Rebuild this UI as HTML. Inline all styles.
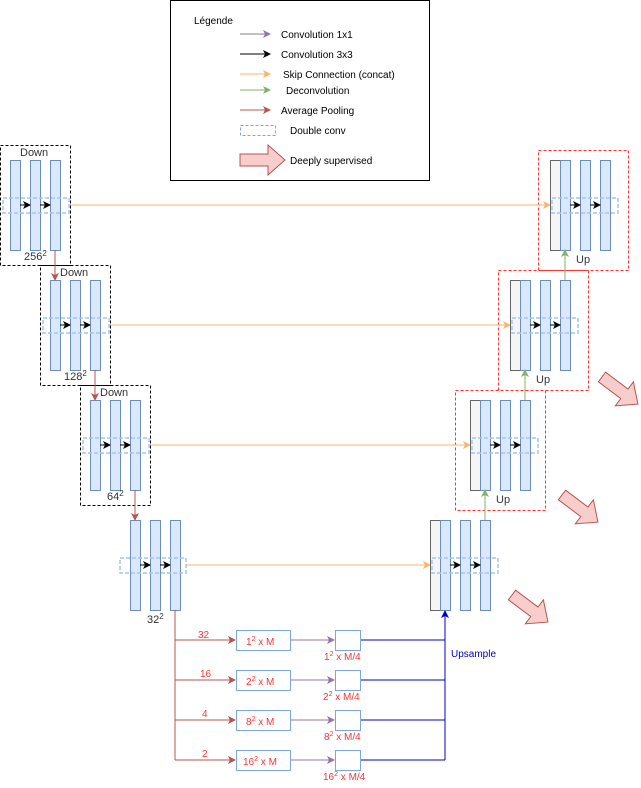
<!DOCTYPE html>
<html><head><meta charset="utf-8"><style>
html,body{margin:0;padding:0;background:#fff}
svg{display:block}
text{font-family:"Liberation Sans",sans-serif}
</style></head><body>
<svg width="641" height="788" viewBox="0 0 641 788" xmlns="http://www.w3.org/2000/svg">
<defs>
<marker id="ak" markerWidth="8" markerHeight="8" refX="7" refY="4" orient="auto" markerUnits="userSpaceOnUse"><path d="M0,0 L8,4 L0,8 L2,4z" fill="#000"/></marker>
<marker id="ao" markerWidth="8" markerHeight="8" refX="7" refY="4" orient="auto" markerUnits="userSpaceOnUse"><path d="M0,0 L8,4 L0,8 L2,4z" fill="#f9b46e"/></marker>
<marker id="ag" markerWidth="8" markerHeight="8" refX="7" refY="4" orient="auto" markerUnits="userSpaceOnUse"><path d="M0,0 L8,4 L0,8 L2,4z" fill="#82b366"/></marker>
<marker id="ar" markerWidth="8" markerHeight="8" refX="7" refY="4" orient="auto" markerUnits="userSpaceOnUse"><path d="M0,0 L8,4 L0,8 L2,4z" fill="#b85450"/></marker>
<marker id="ap" markerWidth="8" markerHeight="8" refX="7" refY="4" orient="auto" markerUnits="userSpaceOnUse"><path d="M0,0 L8,4 L0,8 L2,4z" fill="#9673a6"/></marker>
<marker id="ab" markerWidth="8" markerHeight="8" refX="7" refY="4" orient="auto" markerUnits="userSpaceOnUse"><path d="M0,0 L8,4 L0,8 L2,4z" fill="#0000cc"/></marker>
<g id="bigarrow"><path d="M0,-6 L28,-6 L28,-15 L45,0 L28,15 L28,6 L0,6z" fill="#f8cecc" stroke="#b85450" stroke-width="1"/></g>
</defs>

<!-- Legend -->
<rect x="170.5" y="0.5" width="259" height="180" fill="#fff" stroke="#000"/>
<g font-size="10" fill="#000">
<text x="194" y="24">Légende</text>
<line x1="240" y1="34" x2="270" y2="34" stroke="#9673a6" marker-end="url(#ap)"/><text x="281" y="38">Convolution 1x1</text>
<line x1="240" y1="54" x2="270" y2="54" stroke="#000" marker-end="url(#ak)"/><text x="281" y="58">Convolution 3x3</text>
<line x1="240" y1="74" x2="270" y2="74" stroke="#f9b46e" marker-end="url(#ao)"/><text x="283" y="78">Skip Connection (concat)</text>
<line x1="240" y1="90" x2="270" y2="90" stroke="#82b366" marker-end="url(#ag)"/><text x="286" y="94">Deconvolution</text>
<line x1="240" y1="110" x2="270" y2="110" stroke="#b85450" marker-end="url(#ar)"/><text x="281" y="114">Average Pooling</text>
<rect x="240.5" y="125.5" width="35" height="10" fill="none" stroke="#7ea6e0" stroke-dasharray="3,2"/><text x="290" y="134">Double conv</text>
<use href="#bigarrow" transform="translate(240,160)"/><text x="290" y="164">Deeply supervised</text>
</g>

<!-- Encoder dashed boxes -->
<g fill="none" stroke="#000" stroke-dasharray="3,2">
<rect x="0.5" y="145.5" width="70" height="120"/>
<rect x="40.5" y="265.5" width="70" height="120"/>
<rect x="80.5" y="385.5" width="70" height="120"/>
</g>
<!-- Decoder red dashed boxes -->
<g fill="none" stroke="#ff3333" stroke-dasharray="3,2">
<rect x="538.5" y="150.5" width="90" height="120"/>
<rect x="498.5" y="270.5" width="90" height="120"/>
<rect x="455.5" y="390.5" width="90" height="120"/>
</g>

<!-- skip lines -->
<g stroke="#f9b46e" fill="none">
<line x1="70" y1="205" x2="550" y2="205" marker-end="url(#ao)"/>
<line x1="110" y1="325" x2="510" y2="325" marker-end="url(#ao)"/>
<line x1="150" y1="445" x2="470" y2="445" marker-end="url(#ao)"/>
<line x1="186" y1="565" x2="430" y2="565" marker-end="url(#ao)"/>
</g>

<!-- bars -->
<g fill="#dae8fc" stroke="#6c8ebf">
<rect x="10.5" y="160.5" width="10" height="90"/><rect x="30.5" y="160.5" width="10" height="90"/><rect x="50.5" y="160.5" width="10" height="90"/>
<rect x="50.5" y="280.5" width="10" height="90"/><rect x="70.5" y="280.5" width="10" height="90"/><rect x="90.5" y="280.5" width="10" height="90"/>
<rect x="90.5" y="400.5" width="10" height="90"/><rect x="110.5" y="400.5" width="10" height="90"/><rect x="130.5" y="400.5" width="10" height="90"/>
<rect x="130.5" y="520.5" width="10" height="90"/><rect x="150.5" y="520.5" width="10" height="90"/><rect x="170.5" y="520.5" width="10" height="90"/>
</g>
<g fill="#f5f5f5" stroke="#666">
<rect x="430.5" y="520.5" width="10" height="90"/>
<rect x="470.5" y="400.5" width="10" height="90"/>
<rect x="510.5" y="280.5" width="10" height="90"/>
<rect x="550.5" y="160.5" width="10" height="90"/>
</g>
<g fill="#dae8fc" stroke="#6c8ebf">
<rect x="440.5" y="520.5" width="10" height="90"/><rect x="460.5" y="520.5" width="10" height="90"/><rect x="480.5" y="520.5" width="10" height="90"/>
<rect x="480.5" y="400.5" width="10" height="90"/><rect x="500.5" y="400.5" width="10" height="90"/><rect x="520.5" y="400.5" width="10" height="90"/>
<rect x="520.5" y="280.5" width="10" height="90"/><rect x="540.5" y="280.5" width="10" height="90"/><rect x="560.5" y="280.5" width="10" height="90"/>
<rect x="560.5" y="160.5" width="10" height="90"/><rect x="580.5" y="160.5" width="10" height="90"/><rect x="600.5" y="160.5" width="10" height="90"/>
</g>

<!-- double conv boxes -->
<g fill="none" stroke="#a9c4eb" stroke-width="1.5" stroke-dasharray="4,2">
<rect x="3" y="198" width="66" height="15"/>
<rect x="43" y="318" width="66" height="15"/>
<rect x="83" y="438" width="66" height="15"/>
<rect x="120" y="558" width="66" height="15"/>
<rect x="432" y="558" width="66" height="15"/>
<rect x="472" y="438" width="66" height="15"/>
<rect x="512" y="318" width="66" height="15"/>
<rect x="552" y="198" width="66" height="15"/>
</g>

<!-- conv arrows -->
<g stroke="#000" marker-end="url(#ak)">
<line x1="20" y1="205" x2="30" y2="205"/><line x1="40" y1="205" x2="50" y2="205"/>
<line x1="60" y1="325" x2="70" y2="325"/><line x1="80" y1="325" x2="90" y2="325"/>
<line x1="100" y1="445" x2="110" y2="445"/><line x1="120" y1="445" x2="130" y2="445"/>
<line x1="140" y1="565" x2="150" y2="565"/><line x1="160" y1="565" x2="170" y2="565"/>
<line x1="450" y1="565" x2="460" y2="565"/><line x1="470" y1="565" x2="480" y2="565"/>
<line x1="490" y1="445" x2="500" y2="445"/><line x1="510" y1="445" x2="520" y2="445"/>
<line x1="530" y1="325" x2="540" y2="325"/><line x1="550" y1="325" x2="560" y2="325"/>
<line x1="570" y1="205" x2="580" y2="205"/><line x1="590" y1="205" x2="600" y2="205"/>
</g>

<!-- pooling arrows -->
<g stroke="#b85450" marker-end="url(#ar)">
<line x1="55" y1="250" x2="55" y2="280"/>
<line x1="95" y1="370" x2="95" y2="400"/>
<line x1="135" y1="490" x2="135" y2="520"/>
</g>
<!-- deconv arrows -->
<g stroke="#82b366" marker-end="url(#ag)">
<line x1="485" y1="520" x2="485" y2="490"/>
<line x1="525" y1="400" x2="525" y2="370"/>
<line x1="565" y1="280" x2="565" y2="250"/>
</g>

<!-- labels -->
<g font-size="11" fill="#333">
<text x="20" y="156">Down</text>
<text x="60" y="276">Down</text>
<text x="100" y="396">Down</text>
<text x="24" y="260">256<tspan font-size="8" dy="-4">2</tspan></text>
<text x="64" y="380">128<tspan font-size="8" dy="-4">2</tspan></text>
<text x="107" y="500">64<tspan font-size="8" dy="-4">2</tspan></text>
<text x="147" y="623">32<tspan font-size="8" dy="-4">2</tspan></text>
<text x="576" y="263">Up</text>
<text x="536" y="383">Up</text>
<text x="496" y="503">Up</text>
</g>

<!-- big arrows -->
<use href="#bigarrow" transform="translate(602,377) rotate(37)"/>
<use href="#bigarrow" transform="translate(562,495) rotate(37)"/>
<use href="#bigarrow" transform="translate(512,595) rotate(37)"/>

<!-- pyramid pooling -->
<g stroke="#b85450" fill="none">
<line x1="175" y1="610" x2="175" y2="760"/>
<line x1="175" y1="640" x2="235" y2="640" marker-end="url(#ar)"/>
<line x1="175" y1="680" x2="235" y2="680" marker-end="url(#ar)"/>
<line x1="175" y1="720" x2="235" y2="720" marker-end="url(#ar)"/>
<line x1="175" y1="760" x2="235" y2="760" marker-end="url(#ar)"/>
</g>
<g stroke="#9673a6">
<line x1="291" y1="640" x2="334" y2="640" marker-end="url(#ap)"/>
<line x1="291" y1="680" x2="334" y2="680" marker-end="url(#ap)"/>
<line x1="291" y1="720" x2="334" y2="720" marker-end="url(#ap)"/>
<line x1="291" y1="760" x2="334" y2="760" marker-end="url(#ap)"/>
</g>
<g fill="#fff" stroke="#7ea6e0">
<rect x="236.5" y="630.5" width="54" height="20"/><rect x="236.5" y="670.5" width="54" height="20"/>
<rect x="236.5" y="710.5" width="54" height="20"/><rect x="236.5" y="750.5" width="54" height="20"/>
<rect x="335.5" y="630.5" width="25" height="20"/><rect x="335.5" y="670.5" width="25" height="20"/>
<rect x="335.5" y="710.5" width="25" height="20"/><rect x="335.5" y="750.5" width="25" height="20"/>
</g>
<g stroke="#0000cc" fill="none">
<line x1="361" y1="640" x2="445" y2="640"/>
<line x1="361" y1="680" x2="445" y2="680"/>
<line x1="361" y1="720" x2="445" y2="720"/>
<line x1="361" y1="760" x2="445" y2="760"/>
<line x1="445" y1="760" x2="445" y2="611" marker-end="url(#ab)"/>
</g>
<g font-size="10" fill="#ff3333">
<text x="198" y="638">32</text><text x="200" y="677">16</text><text x="202" y="717">4</text><text x="202" y="757">2</text>
<text x="246" y="645">1<tspan font-size="7" dy="-4">2</tspan><tspan dy="4"> x M</tspan></text>
<text x="246" y="685">2<tspan font-size="7" dy="-4">2</tspan><tspan dy="4"> x M</tspan></text>
<text x="246" y="725">8<tspan font-size="7" dy="-4">2</tspan><tspan dy="4"> x M</tspan></text>
<text x="243" y="765">16<tspan font-size="7" dy="-4">2</tspan><tspan dy="4"> x M</tspan></text>
<text x="324" y="660">1<tspan font-size="7" dy="-4">2</tspan><tspan dy="4"> x M/4</tspan></text>
<text x="323" y="700">2<tspan font-size="7" dy="-4">2</tspan><tspan dy="4"> x M/4</tspan></text>
<text x="324" y="740">8<tspan font-size="7" dy="-4">2</tspan><tspan dy="4"> x M/4</tspan></text>
<text x="323" y="780">16<tspan font-size="7" dy="-4">2</tspan><tspan dy="4"> x M/4</tspan></text>
</g>
<text x="451" y="657" font-size="10" fill="#0000cc">Upsample</text>
</svg>
</body></html>
